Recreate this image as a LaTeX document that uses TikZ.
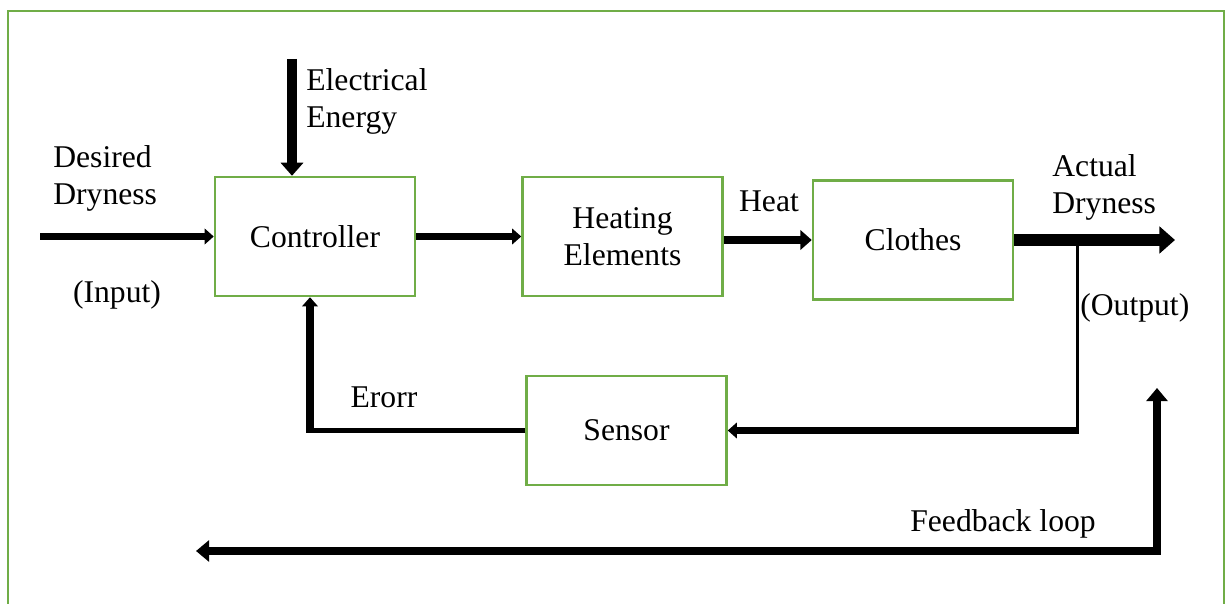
\documentclass[tikz,border=0pt]{standalone}
\usepackage{fontspec}
\setmainfont{Liberation Serif}
\usetikzlibrary{arrows.meta}
\definecolor{boxgreen}{RGB}{112,173,71}

\tikzset{
	blk/.style={draw=boxgreen, line width=1.4pt, minimum width=4cm, minimum height=2.38cm, align=center, inner sep=0pt},
	lbl/.style={inner sep=0pt, align=left},
	flow/.style={line width=#1, -{Triangle[length=0pt 1.3, width=0pt 2.2]}},
}

\begin{document}
\begin{tikzpicture}[every node/.style={font=\fontsize{18}{21}\selectfont}]
		\useasboundingbox (0, 0) rectangle (24.6, 12.06);
		\draw[boxgreen, line width=1.1pt] (0.16, -0.3) rectangle (24.48, 11.84);

		% blocks
		\node[blk] (ctrl) at (6.3, 7.33) {Controller};
		\node[blk] (heat) at (12.45, 7.33) {Heating\\Elements};
		\node[blk] (clothes) at (18.26, 7.26) {Clothes};
		\node[blk, minimum height=2.18cm] (sens) at (12.53, 3.45) {Sensor};

		% free ends
		\coordinate (in) at (0.8, 7.33);
		\coordinate (elec) at (5.84, 10.88);
		\coordinate (out) at (23.5, 7.26);
		\coordinate (br) at (21.54, 7.26);
		\coordinate (err) at (6.2, 3.45);
		\coordinate (fbl) at (3.92, 1.04);
		\coordinate (fbr) at (23.14, 4.3);

		% main path
		\draw[flow=4pt] (in) -- (ctrl.west);
		\draw[flow=5.7pt] (elec) -- (elec |- ctrl.north);
		\draw[flow=4pt] (ctrl.east) -- (heat.west);
		\draw[flow=5pt] (heat.east |- clothes.west) -- (clothes.west);
		\draw[flow=6.8pt] (clothes.east) -- (out);

		% sensing path
		\draw[line width=1.7pt] (br) -- ([yshift=-2pt]br |- sens.east);
		\draw[flow=4pt] (br |- sens.east) -- (sens.east);
		\draw[line width=2.3pt] (sens.west) -- (err);
		\draw[flow=4pt] ([yshift=-1.2pt]err) -- (err |- ctrl.south);

		% feedback loop
		\draw[line width=5pt, miter limit=4, {Triangle[length=0pt 1.5, width=0pt 2.4]}-{Triangle[length=0pt 1.5, width=0pt 2.4]}] (fbl) -| (fbr);

		% labels
		\node[lbl, anchor=west] (desired) at (1.06, 8.5) {Desired\\Dryness};
		\node[lbl] (input) at (2.34, 6.16) {(Input)};
		\node[lbl, anchor=west] (energy) at (6.12, 10.04) {Electrical\\Energy};
		\node[lbl] (heatlbl) at (15.38, 8.03) {Heat};
		\node[lbl, anchor=west] (actual) at (21.04, 8.31) {Actual\\Dryness};
		\node[lbl, anchor=west] (output) at (21.6, 5.91) {(Output)};
		\node[lbl] (error) at (7.68, 4.12) {Erorr};
		\node[lbl] (fblbl) at (20.06, 1.58) {Feedback loop};
	\end{tikzpicture}
\end{document}
